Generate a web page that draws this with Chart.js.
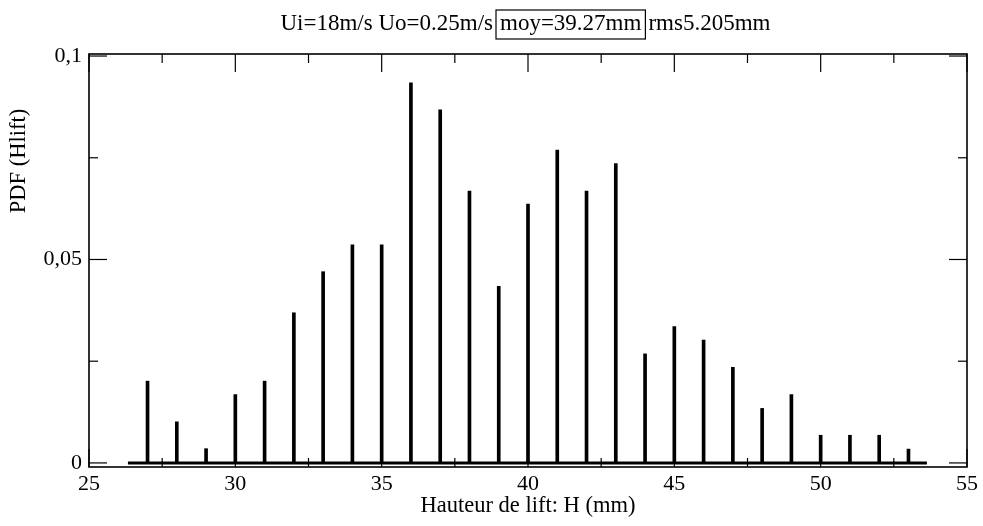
<!DOCTYPE html>
<html><head><meta charset="utf-8">
<script src="https://cdn.jsdelivr.net/npm/chart.js@4.4.0/dist/chart.umd.min.js"></script>
<style>html,body{margin:0;padding:0;background:#fff}#wrap{width:983px;height:526px}</style>
</head><body><div id="wrap"><canvas id="c" width="983" height="526"></canvas></div>
<script>
const heightsMm = [27,28,29,30,31,32,33,34,35,36,37,38,39,40,41,42,43,44,45,46,47,48,49,50,51,52,53];
const pdfValues = [0.0201,0.0101,0.0035,0.0168,0.0201,0.0369,0.0470,0.0536,0.0536,0.0934,0.0868,0.0668,0.0434,0.0636,0.0769,0.0668,0.0736,0.0268,0.0335,0.0302,0.0235,0.0134,0.0168,0.0068,0.0068,0.0068,0.0034];
const baselineRange = [26.33, 53.63];
const xTicks = [25,30,35,40,45,50,55];
const xMinorTicks = [27.5,32.5,37.5,42.5,47.5,52.5];
const yTicks = [0,0.05,0.1];
const yMinorTicks = [0.025,0.075];
const titleParts = ["Ui=18m/s Uo=0.25m/s", "moy=39.27mm", "rms5.205mm"];
const xTitle = "Hauteur de lift: H (mm)";
const yTitle = "PDF (Hlift)";

const FONT = '"Liberation Serif", "Times New Roman", serif';

const framePlugin = {
  id: 'frame',
  afterDraw(chart) {
    const {ctx, chartArea: a, scales: {x, y}} = chart;
    ctx.save();
    ctx.strokeStyle = '#000';
    ctx.lineWidth = 1.2;
    const tick = (x1, y1, x2, y2) => { ctx.beginPath(); ctx.moveTo(x1, y1); ctx.lineTo(x2, y2); ctx.stroke(); };
    xTicks.forEach(v => { const p = x.getPixelForValue(v); tick(p, a.bottom, p, a.bottom - 18); tick(p, a.top, p, a.top + 18); });
    xMinorTicks.forEach(v => { const p = x.getPixelForValue(v); tick(p, a.bottom, p, a.bottom - 9); tick(p, a.top, p, a.top + 9); });
    yTicks.forEach(v => { const p = y.getPixelForValue(v); tick(a.left, p, a.left + 18, p); tick(a.right, p, a.right - 18, p); });
    yMinorTicks.forEach(v => { const p = y.getPixelForValue(v); tick(a.left, p, a.left + 9, p); tick(a.right, p, a.right - 9, p); });
    ctx.lineWidth = 1.6;
    ctx.strokeRect(a.left, a.top, a.right - a.left, a.bottom - a.top);

    // title
    ctx.font = '23px ' + FONT;
    ctx.fillStyle = '#000';
    ctx.textBaseline = 'alphabetic';
    ctx.textAlign = 'left';
    const gap = 3, pad = 4;
    const w0 = ctx.measureText(titleParts[0]).width;
    const w1 = ctx.measureText(titleParts[1]).width;
    const boxLeft = 496;
    let tx = boxLeft - gap - w0;
    const ty = 30;
    ctx.fillText(titleParts[0], tx, ty);
    tx = boxLeft;
    ctx.lineWidth = 1.2;
    ctx.strokeRect(tx, 10, w1 + 2 * pad, 29);
    ctx.fillText(titleParts[1], tx + pad, ty);
    tx += w1 + 2 * pad + gap;
    ctx.fillText(titleParts[2], tx, ty);

    // y title
    ctx.save();
    ctx.translate(19, 161);
    ctx.rotate(-Math.PI / 2);
    ctx.textAlign = 'center';
    ctx.textBaseline = 'middle';
    ctx.font = '22.5px ' + FONT;
    ctx.fillText(yTitle, 0, 0);
    ctx.restore();
    ctx.restore();
  }
};

Chart.defaults.font.family = FONT;
Chart.defaults.color = '#000';

new Chart(document.getElementById('c'), {
  data: {
    datasets: [
      {
        type: 'bar',
        data: heightsMm.map((h, i) => ({x: h, y: pdfValues[i]})),
        backgroundColor: '#000',
        borderWidth: 0,
        barThickness: 3,
        grouped: false
      },
      {
        type: 'line',
        data: baselineRange.map(v => ({x: v, y: 0})),
        borderColor: '#000',
        borderWidth: 3,
        pointRadius: 0,
        fill: false
      }
    ]
  },
  options: {
    responsive: false,
    animation: false,
    devicePixelRatio: 1,
    layout: {padding: {top: 54, right: 16, left: 0, bottom: 0}},
    plugins: {legend: {display: false}, tooltip: {enabled: false}, title: {display: false}},
    scales: {
      x: {
        type: 'linear', min: 25, max: 55, offset: false,
        afterBuildTicks: s => { s.ticks = xTicks.map(v => ({value: v})); },
        afterFit: s => { s.height = 59; },
        grid: {display: false, drawTicks: false},
        border: {display: false},
        ticks: {padding: 4, font: {size: 22}, maxRotation: 0, autoSkip: false},
        title: {display: true, text: xTitle, font: {size: 22.5}, padding: {top: 0, bottom: 6}}
      },
      y: {
        type: 'linear', min: -0.001, max: 0.1005,
        afterBuildTicks: s => { s.ticks = yTicks.map(v => ({value: v})); },
        afterFit: s => { s.width = 89; },
        grid: {display: false, drawTicks: false},
        border: {display: false},
        ticks: {padding: 7, font: {size: 22}, callback: v => String(v).replace('.', ',')}
      }
    }
  },
  plugins: [framePlugin]
});
</script></body></html>
